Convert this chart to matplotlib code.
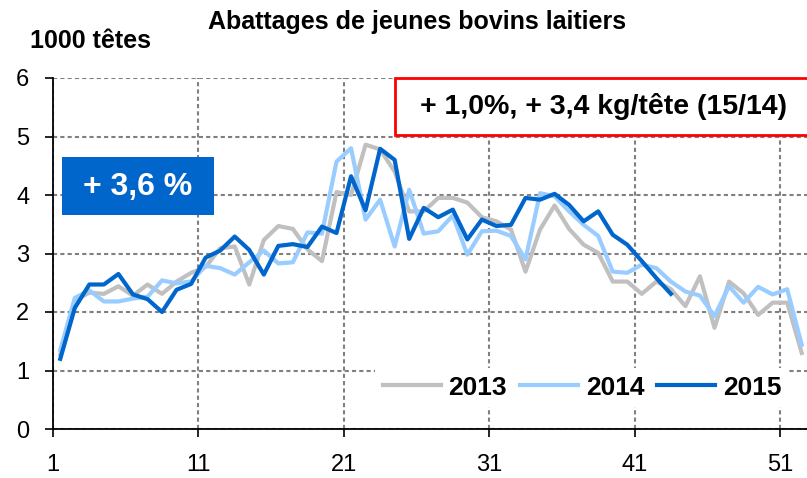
import matplotlib
matplotlib.use('Agg')
import matplotlib.pyplot as plt
from matplotlib.patches import Rectangle

plt.rcParams['font.family'] = ['Liberation Sans', 'DejaVu Sans']

# Semaines et abattages (1000 têtes)
semaines = list(range(1, 53))
abattages_2013 = [1.28, 2.20, 2.33, 2.31, 2.44, 2.28, 2.47, 2.31, 2.52, 2.67,
                  2.77, 3.09, 3.12, 2.47, 3.23, 3.47, 3.42, 3.07, 2.87, 4.05,
                  4.00, 4.86, 4.78, 4.40, 3.72, 3.72, 3.95, 3.95, 3.87, 3.62,
                  3.55, 3.41, 2.69, 3.41, 3.82, 3.42, 3.15, 3.01, 2.52, 2.52,
                  2.31, 2.52, 2.39, 2.10, 2.61, 1.73, 2.52, 2.32, 1.95, 2.16,
                  2.16, 1.30]
abattages_2014 = [1.35, 2.24, 2.37, 2.18, 2.18, 2.23, 2.26, 2.54, 2.49, 2.52,
                  2.79, 2.75, 2.64, 2.85, 3.05, 2.83, 2.85, 3.36, 3.34, 4.57,
                  4.80, 3.58, 3.92, 3.12, 4.09, 3.34, 3.38, 3.65, 2.98, 3.38,
                  3.39, 3.30, 2.90, 4.03, 3.98, 3.72, 3.49, 3.30, 2.69, 2.67,
                  2.81, 2.75, 2.52, 2.35, 2.28, 1.93, 2.44, 2.16, 2.43, 2.30,
                  2.39, 1.44]
abattages_2015 = [1.20, 2.07, 2.47, 2.47, 2.65, 2.30, 2.22, 2.00, 2.38, 2.48,
                  2.93, 3.05, 3.29, 3.06, 2.64, 3.13, 3.16, 3.11, 3.46, 3.35,
                  4.32, 3.74, 4.79, 4.60, 3.25, 3.78, 3.62, 3.75, 3.24, 3.58,
                  3.47, 3.49, 3.95, 3.92, 4.02, 3.83, 3.55, 3.72, 3.32, 3.15,
                  2.87, 2.58, 2.31]
etiquettes_x = ['1', '11', '21', '31', '41', '51']

gris = '#C0C0C0'
bleu_clair = '#99CCFF'
bleu = '#0066CC'

fig = plt.figure(figsize=(8.07, 4.78), dpi=100)
ax = fig.add_axes([53 / 807, 49 / 478, 756 / 807, 351 / 478])

ax.plot(semaines, abattages_2013, color=gris, lw=3, label='2013', zorder=3)
ax.plot(semaines, abattages_2014, color=bleu_clair, lw=3, label='2014', zorder=4)
ax.plot(semaines[:len(abattages_2015)], abattages_2015, color=bleu, lw=3,
        label='2015', zorder=5)

ax.set_xlim(0.5, 52.5)
ax.set_ylim(0, 6)
ax.set_xticks([0.5 + 10 * i for i in range(len(etiquettes_x))])
ax.set_xticklabels(etiquettes_x)
ax.set_yticks(range(0, 7))
ax.tick_params(axis='both', labelsize=17, direction='out', length=6,
               width=1.2, color='black')
ax.tick_params(axis='y', pad=11)
ax.tick_params(axis='x', pad=12)

ax.grid(True, color='#808080', lw=1.5, linestyle=(0, (2, 1.5)))
ax.set_axisbelow(True)
for s in ['top', 'right']:
    ax.spines[s].set_visible(False)
for s in ['left', 'bottom']:
    ax.spines[s].set_linewidth(1.3)

leg = ax.legend(loc='center', bbox_to_anchor=(0.70, 0.118), ncol=3,
                prop={'weight': 'bold', 'size': 19}, handlelength=2.2,
                handletextpad=0.28, columnspacing=0.5, frameon=True,
                fancybox=False, framealpha=1, borderpad=0.3)
leg.get_frame().set_edgecolor('none')
leg.set_zorder(6)

# Titre et unité
fig.text(417 / 807, 1 - 22 / 478, 'Abattages de jeunes bovins laitiers',
         ha='center', va='center', fontsize=18, fontweight='bold')
fig.text(30 / 807, 1 - 41 / 478, '1000 têtes', ha='left', va='center',
         fontsize=18, fontweight='bold')

# Encadré bleu
fig.patches.append(Rectangle((62 / 807, 1 - 215 / 478), 152 / 807, 58 / 478,
                             transform=fig.transFigure, facecolor=bleu,
                             edgecolor='none', zorder=7))
fig.text(138 / 807, 1 - 187 / 478, '+ 3,6 %', ha='center', va='center',
         fontsize=23, fontweight='bold', color='white', zorder=8)

# Encadré rouge
fig.patches.append(Rectangle((395 / 807, 1 - 135 / 478), 420 / 807, 57 / 478,
                             transform=fig.transFigure, facecolor='white',
                             edgecolor='red', lw=2, zorder=7))
fig.text(603 / 807, 1 - 107 / 478, '+ 1,0%, + 3,4 kg/tête (15/14)',
         ha='center', va='center', fontsize=20.5, fontweight='bold', zorder=8)

fig.savefig('out.png', dpi=100)
